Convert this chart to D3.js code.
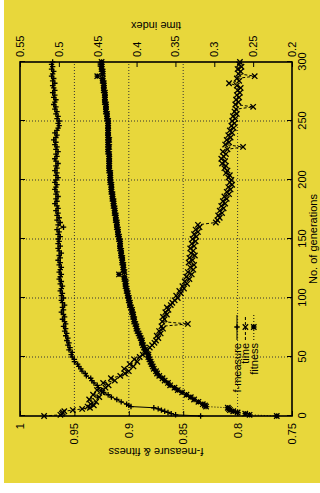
<!DOCTYPE html>
<html>
<head>
<meta charset="utf-8">
<script src="https://cdn.jsdelivr.net/npm/d3@7"></script>
<style>
  html, body { margin: 0; padding: 0; background: #fff; }
  svg { display: block; font-family: "Liberation Sans", Arial, Helvetica, sans-serif; }
  .axis path.domain { display: none; }
  .axis line { stroke: #000; stroke-width: 1; }
  .axis text { fill: #000; font-size: 11px; }
  .grid line { stroke: #333; stroke-width: 1; stroke-dasharray: 1,2; }
  .label { font-size: 11px; fill: #000; }
</style>
</head>
<body>
<svg id="chart" width="320" height="493"></svg>
<script>
// generations sampled in the plot
const generations = [0, 1, 2, 3, 4, 5, 6, 7, 8, 9, 10,
  12, 14, 16, 18, 20, 22, 24, 26, 28, 30,
  32, 34, 36, 38, 40, 42, 44, 46, 48, 50,
  52, 54, 56, 58, 60, 62, 64, 66, 68, 70,
  72, 74, 76, 78, 80, 82, 84, 86, 88, 90,
  92, 94, 96, 98, 100, 102, 104, 106, 108, 110,
  112, 114, 116, 118, 120, 122, 124, 126, 128, 130,
  132, 134, 136, 138, 140, 142, 144, 146, 148, 150,
  152, 154, 156, 158, 160, 162, 164, 166, 168, 170,
  172, 174, 176, 178, 180, 182, 184, 186, 188, 190,
  192, 194, 196, 198, 200, 202, 204, 206, 208, 210,
  212, 214, 216, 218, 220, 222, 224, 226, 228, 230,
  232, 234, 236, 238, 240, 242, 244, 246, 248, 250,
  252, 254, 256, 258, 260, 262, 264, 266, 268, 270,
  272, 274, 276, 278, 280, 282, 284, 286, 288, 290,
  292, 294, 296, 298, 300];

const fMeasure = [0.834, 0.857, 0.861, 0.864, 0.867, 0.870, 0.873, 0.877, 0.898, 0.900, 0.902,
  0.907, 0.911, 0.916, 0.919, 0.923, 0.925, 0.928, 0.929, 0.932, 0.934,
  0.935, 0.939, 0.940, 0.943, 0.944, 0.946, 0.947, 0.950, 0.950, 0.952,
  0.953, 0.952, 0.955, 0.954, 0.956, 0.955, 0.957, 0.956, 0.958, 0.957,
  0.959, 0.958, 0.960, 0.958, 0.959, 0.961, 0.959, 0.960, 0.962, 0.960,
  0.961, 0.959, 0.961, 0.962, 0.960, 0.962, 0.961, 0.963, 0.962, 0.961,
  0.963, 0.962, 0.964, 0.963, 0.962, 0.964, 0.963, 0.962, 0.964, 0.963,
  0.965, 0.963, 0.964, 0.962, 0.964, 0.965, 0.963, 0.965, 0.964, 0.965,
  0.963, 0.965, 0.964, 0.966, 0.960, 0.965, 0.963, 0.966, 0.964, 0.966,
  0.965, 0.967, 0.965, 0.966, 0.968, 0.966, 0.967, 0.965, 0.967, 0.966,
  0.968, 0.967, 0.966, 0.968, 0.967, 0.965, 0.967, 0.966, 0.968, 0.966,
  0.967, 0.965, 0.967, 0.968, 0.966, 0.967, 0.965, 0.967, 0.966, 0.968,
  0.967, 0.969, 0.967, 0.966, 0.968, 0.966, 0.965, 0.964, 0.965, 0.964,
  0.966, 0.965, 0.967, 0.966, 0.968, 0.967, 0.969, 0.968, 0.967, 0.969,
  0.968, 0.970, 0.968, 0.969, 0.970, 0.968, 0.970, 0.969, 0.971, 0.970,
  0.969, 0.971, 0.970, 0.971, 0.970];

const timeIndex = [0.519, 0.498, 0.496, 0.495, 0.493, 0.482, 0.470, 0.460, 0.463, 0.455, 0.459,
  0.452, 0.461, 0.448, 0.456, 0.444, 0.451, 0.440, 0.436, 0.443, 0.428,
  0.433, 0.421, 0.415, 0.410, 0.416, 0.404, 0.409, 0.399, 0.403, 0.396,
  0.392, 0.389, 0.386, 0.383, 0.380, 0.377, 0.375, 0.372, 0.374, 0.369,
  0.371, 0.366, 0.368, 0.334, 0.367, 0.364, 0.366, 0.361, 0.363, 0.359,
  0.361, 0.356, 0.354, 0.351, 0.347, 0.349, 0.343, 0.345, 0.339, 0.341,
  0.335, 0.338, 0.332, 0.336, 0.329, 0.334, 0.327, 0.331, 0.326, 0.333,
  0.328, 0.332, 0.325, 0.330, 0.327, 0.331, 0.326, 0.329, 0.324, 0.328,
  0.323, 0.326, 0.321, 0.324, 0.319, 0.321, 0.298, 0.296, 0.293, 0.295,
  0.290, 0.293, 0.288, 0.291, 0.286, 0.289, 0.284, 0.287, 0.281, 0.284,
  0.279, 0.282, 0.277, 0.280, 0.278, 0.282, 0.280, 0.285, 0.283, 0.287,
  0.285, 0.290, 0.286, 0.291, 0.288, 0.285, 0.289, 0.283, 0.263, 0.286,
  0.281, 0.284, 0.279, 0.282, 0.277, 0.280, 0.275, 0.278, 0.274, 0.277,
  0.273, 0.276, 0.271, 0.274, 0.272, 0.250, 0.273, 0.269, 0.272, 0.268,
  0.271, 0.267, 0.270, 0.266, 0.271, 0.281, 0.268, 0.271, 0.248, 0.269,
  0.266, 0.270, 0.265, 0.268, 0.267];

const fitness = [0.764, 0.789, 0.793, 0.800, 0.804, 0.807, 0.808, 0.809, 0.829, 0.830, 0.832,
  0.836, 0.840, 0.843, 0.847, 0.851, 0.855, 0.858, 0.862, 0.864, 0.867,
  0.869, 0.872, 0.874, 0.875, 0.877, 0.878, 0.879, 0.880, 0.881, 0.882,
  0.882, 0.884, 0.885, 0.886, 0.887, 0.888, 0.888, 0.889, 0.890, 0.891,
  0.892, 0.893, 0.893, 0.894, 0.895, 0.895, 0.896, 0.896, 0.897, 0.897,
  0.898, 0.899, 0.899, 0.900, 0.900, 0.901, 0.901, 0.902, 0.902, 0.903,
  0.903, 0.903, 0.904, 0.904, 0.909, 0.904, 0.905, 0.905, 0.905, 0.906,
  0.906, 0.906, 0.907, 0.907, 0.907, 0.908, 0.908, 0.908, 0.908, 0.909,
  0.909, 0.910, 0.910, 0.910, 0.911, 0.911, 0.911, 0.912, 0.912, 0.912,
  0.913, 0.913, 0.913, 0.914, 0.914, 0.914, 0.915, 0.915, 0.915, 0.916,
  0.916, 0.916, 0.916, 0.917, 0.917, 0.917, 0.917, 0.917, 0.918, 0.918,
  0.918, 0.918, 0.918, 0.918, 0.918, 0.918, 0.919, 0.919, 0.918, 0.919,
  0.919, 0.918, 0.919, 0.919, 0.919, 0.919, 0.919, 0.919, 0.919, 0.919,
  0.920, 0.920, 0.920, 0.921, 0.921, 0.921, 0.921, 0.922, 0.922, 0.922,
  0.922, 0.922, 0.923, 0.923, 0.923, 0.923, 0.924, 0.924, 0.929, 0.924,
  0.924, 0.925, 0.925, 0.925, 0.925];

const genTicks = [0, 50, 100, 150, 200, 250, 300];
const fTicks = [0.75, 0.8, 0.85, 0.9, 0.95, 1];
const timeTicks = [0.2, 0.25, 0.3, 0.35, 0.4, 0.45, 0.5, 0.55];
const legendNames = ['f-measure', 'time', 'fitness'];

// the whole gnuplot figure is turned a quarter turn counter-clockwise
const plotW = 354, plotH = 272;
const origin = { x: 20, y: 416 };

const svg = d3.select('#chart');

svg.append('rect')
  .attr('x', 4).attr('y', 0)
  .attr('width', 316).attr('height', 483)
  .attr('fill', '#e8d73b');

const g = svg.append('g')
  .attr('transform', 'translate(' + origin.x + ',' + origin.y + ') rotate(-90)');

const x = d3.scaleLinear().domain([0, 300]).range([0, plotW]);
const yF = d3.scaleLinear().domain([0.75, 1]).range([plotH, 0]);
const yT = d3.scaleLinear().domain([0.2, 0.55]).range([plotH, 0]);

// grid
const grid = g.append('g').attr('class', 'grid');
grid.selectAll('line.gx')
  .data(genTicks.slice(1, -1))
  .join('line')
  .attr('x1', d => x(d)).attr('x2', d => x(d))
  .attr('y1', 0).attr('y2', plotH);
grid.selectAll('line.gy')
  .data(fTicks.slice(1, -1))
  .join('line')
  .attr('class', 'gy')
  .attr('x1', 0).attr('x2', plotW)
  .attr('y1', d => yF(d)).attr('y2', d => yF(d));

// axes, ticks pointing inward like gnuplot
const fmt = d3.format('~g');

g.append('g')
  .attr('class', 'axis')
  .attr('transform', 'translate(0,' + plotH + ')')
  .call(d3.axisBottom(x).tickValues(genTicks).tickSize(-5).tickPadding(6).tickFormat(d3.format('d')));

g.append('g')
  .attr('class', 'axis')
  .call(d3.axisTop(x).tickValues(genTicks).tickSize(-5).tickFormat(''));

g.append('g')
  .attr('class', 'axis')
  .call(d3.axisLeft(yF).tickValues(fTicks).tickSize(-5).tickPadding(7).tickFormat(fmt));

g.append('g')
  .attr('class', 'axis')
  .attr('transform', 'translate(' + plotW + ',0)')
  .call(d3.axisRight(yT).tickValues(timeTicks).tickSize(-5).tickPadding(5).tickFormat(fmt));

// point symbols
const s = 2.7;
const symbols = {
  plus: `M${-s},0H${s}M0,${-s}V${s}`,
  cross: `M${-s},${-s}L${s},${s}M${-s},${s}L${s},${-s}`,
  star: `M${-s},0H${s}M0,${-s}V${s}M${-s},${-s}L${s},${s}M${-s},${s}L${s},${-s}`
};

const series = [
  { values: fMeasure, scale: yF, dash: null, symbol: symbols.plus },
  { values: timeIndex, scale: yT, dash: '3,2', symbol: symbols.cross },
  { values: fitness, scale: yF, dash: '1,2', symbol: symbols.star }
];

series.forEach(sr => {
  const line = d3.line()
    .x((d, i) => x(generations[i]))
    .y(d => sr.scale(d));

  g.append('path')
    .datum(sr.values)
    .attr('d', line)
    .attr('fill', 'none')
    .attr('stroke', '#000')
    .attr('stroke-width', 1)
    .attr('stroke-dasharray', sr.dash);

  g.append('g')
    .selectAll('path')
    .data(sr.values)
    .join('path')
    .attr('transform', (d, i) => 'translate(' + x(generations[i]) + ',' + sr.scale(d) + ')')
    .attr('d', sr.symbol)
    .attr('fill', 'none')
    .attr('stroke', '#000')
    .attr('stroke-width', 1.3);
});

// frame
g.append('rect')
  .attr('width', plotW).attr('height', plotH)
  .attr('fill', 'none')
  .attr('stroke', '#000')
  .attr('stroke-width', 1.6);

// axis titles
g.append('text')
  .attr('class', 'label')
  .attr('x', plotW / 2).attr('y', plotH + 21)
  .attr('text-anchor', 'middle')
  .attr('dominant-baseline', 'central')
  .text('No. of generations');

g.append('text')
  .attr('class', 'label')
  .attr('transform', 'translate(-36,' + (plotH / 2) + ') rotate(-90)')
  .attr('text-anchor', 'middle')
  .attr('dominant-baseline', 'central')
  .text('f-measure & fitness');

g.append('text')
  .attr('class', 'label')
  .attr('transform', 'translate(' + (plotW + 36) + ',' + (plotH / 2) + ') rotate(-90)')
  .attr('text-anchor', 'middle')
  .attr('dominant-baseline', 'central')
  .text('time index');

// key
const key = g.append('g').attr('transform', 'translate(0,217)');
legendNames.forEach((name, i) => {
  const row = key.append('g').attr('transform', 'translate(0,' + (i * 8.4) + ')');
  row.append('text')
    .attr('class', 'label')
    .attr('x', 73)
    .attr('text-anchor', 'end')
    .attr('dominant-baseline', 'central')
    .text(name);
  row.append('line')
    .attr('x1', 76).attr('x2', 101)
    .attr('stroke', '#000')
    .attr('stroke-width', 1)
    .attr('stroke-dasharray', series[i].dash);
  row.append('path')
    .attr('transform', 'translate(89,0)')
    .attr('d', series[i].symbol)
    .attr('fill', 'none')
    .attr('stroke', '#000')
    .attr('stroke-width', 1.3);
});
</script>
</body>
</html>
